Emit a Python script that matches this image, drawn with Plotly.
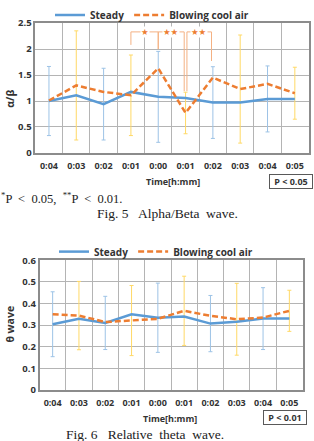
import plotly.graph_objects as go

W, H = 314, 441

# ---------------- data ----------------
time_labels = ["0:04", "0:03", "0:02", "0:01", "0:00", "0:01", "0:02", "0:03", "0:04", "0:05"]

# Fig. 5  Alpha/Beta
ab_steady = [1.00, 1.11, 0.94, 1.175, 1.08, 1.06, 0.97, 0.97, 1.04, 1.04]
ab_blowing = [1.01, 1.30, 1.175, 1.11, 1.63, 0.77, 1.45, 1.23, 1.33, 1.15]
ab_steady_sd = [0.665, None, 0.69, None, 0.875, None, 0.69, None, 0.635, None]
ab_blowing_sd = [None, 1.05, None, 0.775, None, 0.40, None, 1.04, None, 0.50]

# significance brackets: (left idx, right idx, top, left-leg bottom, right-leg bottom, label)
ab_sig = [
    (3.0, 4.0, 2.33, 2.08, 2.00, "*"),
    (4.0, 4.95, 2.33, 2.00, 1.19, "**"),
    (5.05, 5.95, 2.33, 1.19, 1.77, "**"),
]

# Fig. 6  Relative theta
th_steady = [0.304, 0.329, 0.310, 0.350, 0.334, 0.340, 0.307, 0.315, 0.330, 0.330]
th_blowing = [0.350, 0.344, 0.314, 0.321, 0.329, 0.366, 0.343, 0.327, 0.335, 0.366]
th_steady_sd = [0.150, None, 0.123, None, 0.160, None, 0.130, None, 0.143, None]
th_blowing_sd = [None, 0.158, None, 0.162, None, 0.160, None, 0.166, None, 0.095]

# ---------------- style ----------------
BLUE = "#5B9BD5"
ORANGE = "#ED7D31"
BLUE_ERR = "#9DC3E6"
YEL_ERR = "#FFD966"
GRID = "#B4B4B4"
BORDER = "#8C8C8C"
TXT = "#333333"
FONT = "Open Sans"


def px(x):
    return x / W


def py(y):
    return 1 - y / H


fig = go.Figure()


def add_chart(xa, ya, steady, blowing, s_sd, b_sd, legend_name):
    xs = list(range(len(steady)))
    # error bars (behind the lines)
    for vals, sd, col in ((steady, s_sd, BLUE_ERR), (blowing, b_sd, YEL_ERR)):
        idx = [i for i, v in enumerate(sd) if v is not None]
        fig.add_trace(go.Scatter(
            x=[xs[i] for i in idx], y=[vals[i] for i in idx],
            mode="markers", marker=dict(size=1, color="rgba(0,0,0,0)"),
            error_y=dict(type="data", array=[sd[i] for i in idx], color=col,
                         thickness=1, width=2),
            showlegend=False, hoverinfo="skip", xaxis=xa, yaxis=ya))
    fig.add_trace(go.Scatter(x=xs, y=steady, mode="lines", name="Steady",
                             line=dict(color=BLUE, width=2.5),
                             xaxis=xa, yaxis=ya, legend=legend_name))
    fig.add_trace(go.Scatter(x=xs, y=blowing, mode="lines", name="Blowing cool air",
                             line=dict(color=ORANGE, width=2.5, dash="6px,3px"),
                             xaxis=xa, yaxis=ya, legend=legend_name))


add_chart("x", "y", ab_steady, ab_blowing, ab_steady_sd, ab_blowing_sd, "legend")
add_chart("x2", "y2", th_steady, th_blowing, th_steady_sd, th_blowing_sd, "legend2")

# significance brackets on Fig. 5
for xl, xr, top, bl, br, lab in ab_sig:
    fig.add_trace(go.Scatter(x=[xl, xl, xr, xr], y=[bl, top, top, br], mode="lines",
                             line=dict(color="#F4B183", width=1),
                             showlegend=False, hoverinfo="skip", xaxis="x", yaxis="y"))
    fig.add_annotation(x=(xl + xr) / 2, y=top, xref="x", yref="y",
                       text=lab.replace("*", "★"),
                       xanchor="center", yanchor="middle",
                       showarrow=False, bgcolor="white", borderpad=0,
                       font=dict(family="DejaVu Sans", size=8.5, color=ORANGE))

tickfont = dict(family=FONT, size=9, color=TXT, weight="bold")

xcommon = dict(range=[-0.5, 9.5], tickmode="array", tickvals=list(range(10)),
               ticktext=time_labels, showgrid=False, zeroline=False,
               showline=True, mirror=True, linecolor=BORDER, linewidth=1.5,
               ticks="", tickfont=tickfont, automargin=False, ticklabelstandoff=3,
               minor=dict(tickmode="array", tickvals=[i + 0.5 for i in range(9)],
                          showgrid=True, gridcolor=GRID, gridwidth=1, ticks=""))
ycommon = dict(showgrid=True, gridcolor=GRID, gridwidth=1, zeroline=False,
               showline=True, mirror=True, linecolor=BORDER, linewidth=1.5,
               ticks="", tickfont=dict(tickfont, size=9.5), automargin=False)

legfont = dict(family=FONT, size=10, color=TXT, weight="bold")

fig.update_layout(
    width=W, height=H, margin=dict(l=0, r=0, t=0, b=0),
    paper_bgcolor="white", plot_bgcolor="white",
    xaxis=dict(domain=[px(35.3), px(308.5)], anchor="y", **xcommon),
    yaxis=dict(domain=[py(149), py(17.3)], anchor="x", range=[0, 2.5], dtick=0.5,
               **ycommon),
    xaxis2=dict(domain=[px(39.5), px(302.5)], anchor="y2", **xcommon),
    yaxis2=dict(domain=[py(389.3), py(257.7)], anchor="x2", range=[0, 0.6], dtick=0.1,
                **ycommon),
    legend=dict(orientation="h", x=px(152), xanchor="center", y=py(9), yanchor="middle",
                font=legfont, itemwidth=30, bgcolor="rgba(0,0,0,0)", tracegroupgap=0),
    legend2=dict(orientation="h", x=px(156), xanchor="center", y=py(249), yanchor="middle",
                 font=legfont, itemwidth=30, bgcolor="rgba(0,0,0,0)", tracegroupgap=0),
    showlegend=True,
)

lab_font = dict(family=FONT, size=9, color=TXT, weight="bold")
serif = dict(family="Liberation Serif", size=13.5, color="#222222")

annots = [
    dict(x=px(10), y=py(94), text="α/β", textangle=-90, font=dict(family=FONT, size=10.5, color=TXT, weight="bold")),
    dict(x=px(173), y=py(178), text="Time[h:mm]", font=lab_font),
    dict(x=px(10), y=py(323), text="θ wave", textangle=-90, font=dict(family=FONT, size=10.5, color=TXT, weight="bold")),
    dict(x=px(170), y=py(418), text="Time[h:mm]", font=lab_font),
    dict(x=px(61), y=py(195),
         text="<sup>*</sup>P  <  0.05,  <sup>**</sup>P  <  0.01.",
         font=dict(family="Liberation Serif", size=12.5, color="#222222")),
    dict(x=px(167), y=py(210), text="Fig. 5   Alpha/Beta  wave.", font=serif),
    dict(x=px(145), y=py(434), text="Fig. 6   Relative  theta  wave.", font=serif),
]
for a in annots:
    fig.add_annotation(xref="paper", yref="paper", showarrow=False,
                       xanchor="center", yanchor="middle", **a)

for cx, cy, t in ((290.5, 178, "P < 0.05"), (284.5, 417, "P < 0.01")):
    fig.add_annotation(xref="paper", yref="paper", x=px(cx), y=py(cy), text=t,
                       xanchor="center", yanchor="middle",
                       showarrow=False, bordercolor="#595959", borderwidth=1,
                       borderpad=0, width=42,
                       font=dict(family=FONT, size=9, color=TXT, weight="bold"))

fig.write_html("out.html")
